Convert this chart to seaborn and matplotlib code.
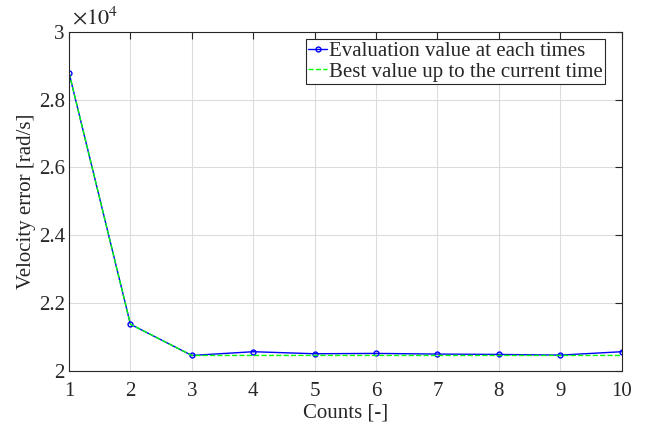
import matplotlib
matplotlib.use("Agg")
import matplotlib.pyplot as plt
from matplotlib.ticker import FuncFormatter
import pandas as pd
import seaborn as sns

# Optimisation history: evaluation value per trial and running best
counts = [1, 2, 3, 4, 5, 6, 7, 8, 9, 10]
evaluation = [28790, 21370, 20450, 20560, 20500, 20510, 20490, 20480, 20460, 20560]
best_so_far = [28790, 21370, 20450, 20450, 20450, 20450, 20450, 20450, 20450, 20450]

x_ticks = [1, 2, 3, 4, 5, 6, 7, 8, 9, 10]
y_ticks = [20000, 22000, 24000, 26000, 28000, 30000]

df = pd.DataFrame({"count": counts, "eval": evaluation, "best": best_so_far})

sns.set_style("white")
plt.rcParams["font.family"] = ["Liberation Serif", "DejaVu Serif"]
plt.rcParams["mathtext.fontset"] = "stix"

fig = plt.figure(figsize=(6.46, 4.32), dpi=100)
ax = fig.add_axes([0.1068, 0.1419, 0.8556, 0.7847])

sns.lineplot(data=df, x="count", y="eval", ax=ax, color="#0000ff", lw=1.0,
             marker="o", markersize=3.5, markerfacecolor="none",
             markeredgecolor="#0000ff", markeredgewidth=1.0,
             label="Evaluation value at each times")
sns.lineplot(data=df, x="count", y="best", ax=ax, color="#00ff00", lw=1.0,
             linestyle="--", label="Best value up to the current time")

ax.set_xlim(1, 10)
ax.set_ylim(20000, 30000)
ax.set_xticks(x_ticks)
ax.set_yticks(y_ticks)
ax.yaxis.set_major_formatter(FuncFormatter(lambda v, p: f"{v / 1e4:g}"))
ax.text(0.005, 1.008, r"$\times10^{4}$", transform=ax.transAxes,
        fontsize=16, ha="left", va="bottom", color="#262626")

ax.grid(True, color="#dcdcdc", lw=0.8)
ax.set_axisbelow(True)
for s in ax.spines.values():
    s.set_visible(True)
    s.set_color("#262626")
    s.set_linewidth(0.8)
ax.tick_params(direction="in", length=5, width=0.8, top=True, right=True,
               labelsize=15, colors="#262626")
ax.tick_params(axis="x", pad=8)
ax.tick_params(axis="y", pad=3)

ax.set_xlabel("Counts [-]", fontsize=15, color="#262626", labelpad=2)
ax.set_ylabel("Velocity error [rad/s]", fontsize=15, color="#262626", labelpad=2)

leg = ax.legend(loc="upper right", bbox_to_anchor=(0.9698, 0.9776),
                borderaxespad=0, fontsize=15, frameon=True, fancybox=False,
                framealpha=1, edgecolor="#262626", handlelength=0.9,
                handletextpad=0.1, borderpad=0.1, labelspacing=0.05)
leg.get_frame().set_linewidth(0.8)

fig.savefig("out.png", dpi=100)
